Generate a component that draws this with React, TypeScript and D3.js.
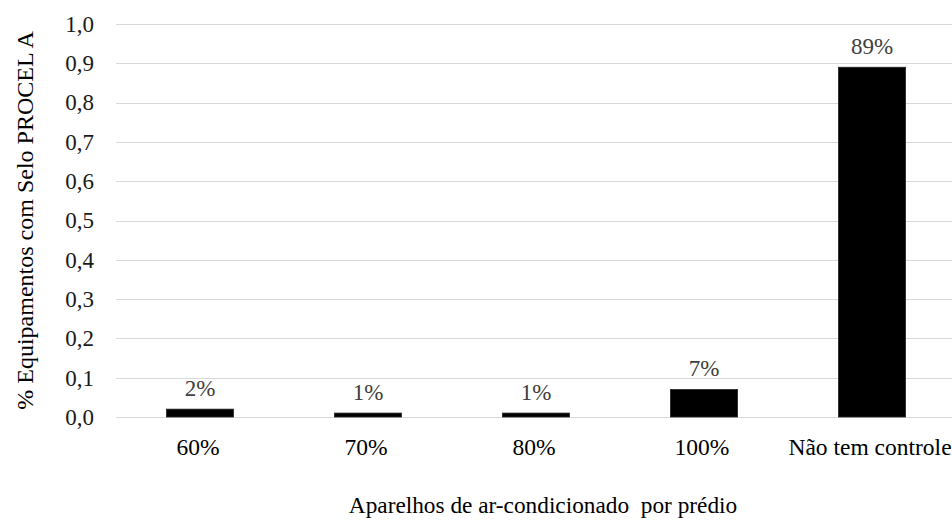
import React from "react";
import * as d3 from "d3";

const categories = ["60%", "70%", "80%", "100%", "Não tem controle"];
const values = [0.02, 0.01, 0.01, 0.07, 0.89];
const valueLabels = ["2%", "1%", "1%", "7%", "89%"];
const yTicks = [0, 0.1, 0.2, 0.3, 0.4, 0.5, 0.6, 0.7, 0.8, 0.9, 1.0];

const W = 952;
const H = 520;
const left = 116;
const right = 956;
const top = 24;
const bottom = 417;

const font = "Liberation Serif, DejaVu Serif, Times New Roman, serif";

export default function App() {
  const x = d3.scaleBand<string>().domain(categories).range([left, right]).paddingInner(0.6).paddingOuter(0.3);
  const y = d3.scaleLinear().domain([0, 1]).range([bottom, top]);
  const fmt = (v: number) => v.toFixed(1).replace(".", ",");
  return (
    <svg width={W} height={H} style={{ position: "absolute", left: 0, top: 0, background: "#fff", fontFamily: font }}>
      {yTicks.map((t) => (
        <g key={t}>
          <line x1={left} x2={W} y1={Math.round(y(t)) + 0.5} y2={Math.round(y(t)) + 0.5} stroke="#d9d9d9" strokeWidth={1} />
          <text x={94} y={y(t)} dy="0.34em" textAnchor="end" fontSize={23} fill="#1a1a1a" style={{ fontFamily: font }}>{fmt(t)}</text>
        </g>
      ))}
      {categories.map((c, i) => (
        <g key={c}>
          <rect x={x(c)} y={y(values[i])} width={x.bandwidth()} height={bottom - y(values[i])} fill="#000" stroke="#262626" strokeWidth={0.8} />
          <text x={x(c)! + x.bandwidth() / 2} y={y(values[i]) - 13} textAnchor="middle" fontSize={23} fill="#404040" style={{ fontFamily: font }}>{valueLabels[i]}</text>
          <text x={x(c)! + x.bandwidth() / 2 - 2} y={455} textAnchor="middle" fontSize={23.5} fill="#000" style={{ fontFamily: font }}>{c}</text>
        </g>
      ))}
      <text x={543} y={513} textAnchor="middle" fontSize={23.3} fill="#000" style={{ whiteSpace: "pre", fontFamily: font }}>Aparelhos de ar-condicionado  por prédio</text>
      <text transform={`translate(33,220.5) rotate(-90)`} textAnchor="middle" fontSize={24} fill="#000" style={{ fontFamily: font }}>% Equipamentos com Selo PROCEL A</text>
    </svg>
  );
}
